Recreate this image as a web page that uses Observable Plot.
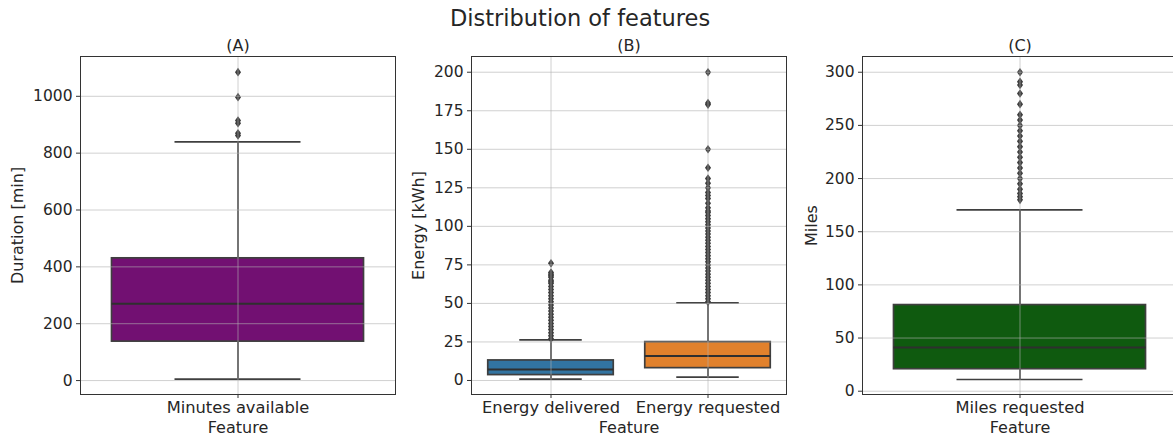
<!DOCTYPE html>
<html>
<head>
<meta charset="utf-8">
<script src="https://cdn.jsdelivr.net/npm/d3@7"></script>
<script src="https://cdn.jsdelivr.net/npm/@observablehq/plot@0.6"></script>
<style>
  html, body { margin: 0; padding: 0; background: #fff; }
  #page { position: relative; width: 1173px; height: 437px; overflow: hidden; font-family: "DejaVu Sans", sans-serif; color: #262626; }
  #title { position: absolute; left: 0; width: 1160px; top: 4px; text-align: center; font-size: 22.5px; line-height: 28px; }
  .panel { position: absolute; top: 30px; }
  .panel svg { max-width: none !important; display: block; }
</style>
</head>
<body>
<div id="page">
  <div id="title">Distribution of features</div>
  <div class="panel" id="pA" style="left:0px;width:400px"></div>
  <div class="panel" id="pB" style="left:400px;width:400px"></div>
  <div class="panel" id="pC" style="left:800px;width:378px"></div>
</div>
<script>
// ---------- Panel A ----------
const catsA = ["Minutes available"];
const q1A = [137], medA = [270], q3A = [430], loA = [5], hiA = [840];
const outA = [[862, 870, 905, 915, 997, 1085]];
const ticksA = [0, 200, 400, 600, 800, 1000];

// ---------- Panel B ----------
const catsB = ["Energy delivered", "Energy requested"];
const q1B = [3.5, 8.0], medB = [7.1, 15.8], q3B = [13.0, 24.9], loB = [0.9, 2.2], hiB = [26.4, 50.4];
const outDelivered = [27, 29, 31, 33, 35, 37, 39, 41, 43, 45, 47, 49, 51, 53, 55, 57, 59, 61, 63, 64, 65, 67, 68, 69, 70, 76];
const outRequested = [51, 53, 55, 57, 59, 61, 63, 65, 67, 69, 71, 73, 75, 77, 79, 81, 83, 85, 87, 89, 91, 93, 95, 97, 99, 101, 103, 105, 107, 109, 110, 112, 115, 118, 120, 122, 125, 128, 131, 138, 150, 179, 180, 200];
const outB = [outDelivered, outRequested];
const ticksB = [0, 25, 50, 75, 100, 125, 150, 175, 200];

// ---------- Panel C ----------
const catsC = ["Miles requested"];
const q1C = [20.7], medC = [41], q3C = [81], loC = [11], hiC = [170.5];
const outC = [[180, 183, 186, 190, 195, 200, 205, 210, 215, 220, 225, 230, 235, 240, 245, 250, 255, 260, 270, 280, 288, 291, 300]];
const ticksC = [0, 50, 100, 150, 200, 250, 300];

const thinDiamond = {
  draw(ctx, size) {
    const r = Math.sqrt(size / Math.PI);
    ctx.moveTo(0, -r * 1.2);
    ctx.lineTo(r * 0.85, 0);
    ctx.lineTo(0, r * 1.2);
    ctx.lineTo(-r * 0.85, 0);
    ctx.closePath();
  }
};

const EDGE = "#3f3f3f";
const FS = 16;

function panel({cats, q1, med, q3, lo, hi, out, ticks, yDomain, colors, title, yLabel, width, marginLeft, marginRight, yLabelX}) {
  const rows = cats.map((c, i) => ({cat: c, q1: q1[i], med: med[i], q3: q3[i], lo: lo[i], hi: hi[i], color: colors[i]}));
  const pts = cats.flatMap((c, i) => out[i].map(v => ({cat: c, v})));
  const height = 407, marginTop = 26, marginBottom = 43;
  const bw = (width - marginLeft - marginRight) / cats.length;
  const boxInset = bw * 0.1, capInset = bw * 0.3;
  return Plot.plot({
    width, height, marginLeft, marginRight, marginTop, marginBottom,
    style: {fontFamily: "DejaVu Sans, sans-serif", fontSize: FS + "px", color: "#262626", background: "transparent", overflow: "visible"},
    x: {type: "band", domain: cats, padding: 0, axis: null},
    y: {domain: yDomain, axis: null},
    marks: [
      Plot.ruleX(rows, {x: "cat", y1: "lo", y2: "q1", stroke: EDGE, strokeWidth: 1.7}),
      Plot.ruleX(rows, {x: "cat", y1: "q3", y2: "hi", stroke: EDGE, strokeWidth: 1.7}),
      Plot.barY(rows, {x: "cat", y1: "q1", y2: "q3", fill: "color", stroke: EDGE, strokeWidth: 1.7, insetLeft: boxInset, insetRight: boxInset}),
      Plot.tickY(rows, {x: "cat", y: "med", stroke: "#2f2f2f", strokeWidth: 2, insetLeft: boxInset, insetRight: boxInset}),
      Plot.tickY(rows, {x: "cat", y: "lo", stroke: EDGE, strokeWidth: 1.7, insetLeft: capInset, insetRight: capInset}),
      Plot.tickY(rows, {x: "cat", y: "hi", stroke: EDGE, strokeWidth: 1.7, insetLeft: capInset, insetRight: capInset}),
      Plot.dot(pts, {x: "cat", y: "v", symbol: thinDiamond, r: 3.6, fill: EDGE, stroke: "none"}),
      Plot.gridY(ticks, {stroke: "#b0b0b0", strokeOpacity: 0.6, strokeWidth: 1}),
      Plot.gridX(cats, {stroke: "#b0b0b0", strokeOpacity: 0.6, strokeWidth: 1}),
      Plot.axisY(ticks, {tickSize: 4, tickPadding: 4, label: null, stroke: "#333", fontSize: 15.5, tickFormat: d3.format("d")}),
      Plot.axisX(cats, {tickSize: 4, tickPadding: 3, label: null, stroke: "#333", fontSize: 16.3}),
      Plot.frame({stroke: "#333", strokeWidth: 1}),
      Plot.text([title], {frameAnchor: "top", lineAnchor: "middle", dy: -11, fontSize: FS}),
      Plot.text(["Feature"], {frameAnchor: "bottom", lineAnchor: "middle", dy: 33, fontSize: FS}),
      Plot.text([yLabel], {frameAnchor: "left", textAnchor: "middle", lineAnchor: "middle", rotate: -90, dx: yLabelX - marginLeft, fontSize: FS})
    ]
  });
}

document.getElementById("pA").append(panel({
  cats: catsA, q1: q1A, med: medA, q3: q3A, lo: loA, hi: hiA, out: outA, ticks: ticksA,
  yDomain: [-49, 1140], colors: ["#721072"], title: "(A)", yLabel: "Duration [min]",
  width: 400, marginLeft: 80, marginRight: 5, yLabelX: 17
}));
document.getElementById("pB").append(panel({
  cats: catsB, q1: q1B, med: medB, q3: q3B, lo: loB, hi: hiB, out: outB, ticks: ticksB,
  yDomain: [-9.1, 210.2], colors: ["#3274a1", "#e1812c"], title: "(B)", yLabel: "Energy [kWh]",
  width: 400, marginLeft: 71, marginRight: 14, yLabelX: 18
}));
document.getElementById("pC").append(panel({
  cats: catsC, q1: q1C, med: medC, q3: q3C, lo: loC, hi: hiC, out: outC, ticks: ticksC,
  yDomain: [-3.1, 314.8], colors: ["#0f5a0f"], title: "(C)", yLabel: "Miles",
  width: 378, marginLeft: 62, marginRight: 1, yLabelX: 11
}));
</script>
</body>
</html>
